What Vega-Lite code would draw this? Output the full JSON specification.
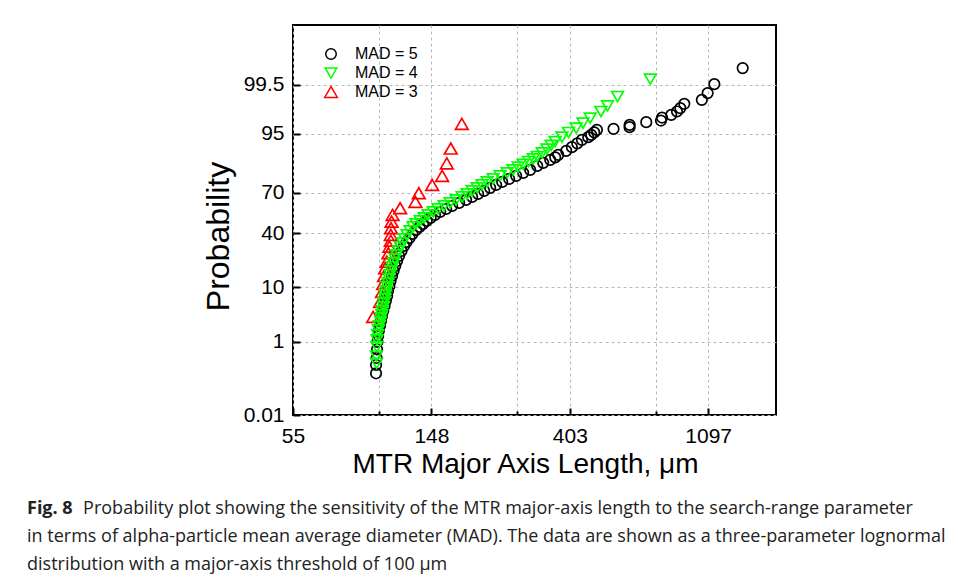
{
  "$schema": "https://vega.github.io/schema/vega-lite/v6.json",
  "width": 483,
  "height": 390,
  "autosize": {"type": "none"},
  "padding": {"left": 293, "top": 25, "right": 182, "bottom": 164},
  "background": "white",
  "config": {
    "view": {"stroke": "black", "strokeWidth": 2},
    "font": "Liberation Sans"
  },
  "title": {
    "text": "Fig. 8",
    "subtitle": [
      "\u200b\u00a0\u00a0\u00a0\u00a0\u00a0\u00a0\u00a0\u00a0\u00a0\u00a0\u00a0\u00a0Probability plot showing the sensitivity of the MTR major-axis length to the search-range parameter",
      "in terms of alpha-particle mean average diameter (MAD). The data are shown as a three-parameter lognormal",
      "distribution with a major-axis threshold of 100 μm"
    ],
    "orient": "bottom",
    "anchor": "start",
    "frame": "group",
    "dx": -266,
    "offset": 22,
    "font": "Open Sans",
    "fontSize": 18,
    "fontWeight": "bold",
    "color": "#222222",
    "subtitleFont": "Open Sans",
    "subtitleFontSize": 18,
    "subtitleColor": "#222222",
    "subtitleLineHeight": 28,
    "subtitlePadding": -18
  },
  "data": {
    "values": [
      {"series": "MAD = 5", "length": 99.5, "z": -2.924},
      {"series": "MAD = 5", "length": 99.5, "z": -2.765},
      {"series": "MAD = 5", "length": 99.9, "z": -2.632},
      {"series": "MAD = 5", "length": 100.2, "z": -2.466},
      {"series": "MAD = 5", "length": 100.5, "z": -2.326},
      {"series": "MAD = 5", "length": 101.0, "z": -2.212},
      {"series": "MAD = 5", "length": 101.5, "z": -2.116},
      {"series": "MAD = 5", "length": 102.3, "z": -2.021},
      {"series": "MAD = 5", "length": 103.1, "z": -1.926},
      {"series": "MAD = 5", "length": 103.9, "z": -1.830},
      {"series": "MAD = 5", "length": 104.8, "z": -1.735},
      {"series": "MAD = 5", "length": 105.8, "z": -1.639},
      {"series": "MAD = 5", "length": 106.8, "z": -1.544},
      {"series": "MAD = 5", "length": 107.8, "z": -1.448},
      {"series": "MAD = 5", "length": 108.5, "z": -1.353},
      {"series": "MAD = 5", "length": 109.6, "z": -1.258},
      {"series": "MAD = 5", "length": 110.5, "z": -1.162},
      {"series": "MAD = 5", "length": 111.7, "z": -1.067},
      {"series": "MAD = 5", "length": 112.9, "z": -0.971},
      {"series": "MAD = 5", "length": 114.3, "z": -0.876},
      {"series": "MAD = 5", "length": 115.8, "z": -0.780},
      {"series": "MAD = 5", "length": 117.5, "z": -0.685},
      {"series": "MAD = 5", "length": 119.6, "z": -0.590},
      {"series": "MAD = 5", "length": 121.8, "z": -0.494},
      {"series": "MAD = 5", "length": 124.1, "z": -0.418},
      {"series": "MAD = 5", "length": 126.8, "z": -0.342},
      {"series": "MAD = 5", "length": 129.5, "z": -0.265},
      {"series": "MAD = 5", "length": 132.9, "z": -0.189},
      {"series": "MAD = 5", "length": 136.3, "z": -0.132},
      {"series": "MAD = 5", "length": 139.8, "z": -0.074},
      {"series": "MAD = 5", "length": 143.4, "z": -0.017},
      {"series": "MAD = 5", "length": 147.6, "z": 0.040},
      {"series": "MAD = 5", "length": 152.4, "z": 0.097},
      {"series": "MAD = 5", "length": 158.1, "z": 0.155},
      {"series": "MAD = 5", "length": 165.1, "z": 0.212},
      {"series": "MAD = 5", "length": 172.4, "z": 0.269},
      {"series": "MAD = 5", "length": 181.3, "z": 0.326},
      {"series": "MAD = 5", "length": 190.7, "z": 0.384},
      {"series": "MAD = 5", "length": 199.2, "z": 0.441},
      {"series": "MAD = 5", "length": 208.0, "z": 0.498},
      {"series": "MAD = 5", "length": 217.3, "z": 0.555},
      {"series": "MAD = 5", "length": 226.9, "z": 0.613},
      {"series": "MAD = 5", "length": 236.9, "z": 0.670},
      {"series": "MAD = 5", "length": 247.5, "z": 0.727},
      {"series": "MAD = 5", "length": 260.3, "z": 0.784},
      {"series": "MAD = 5", "length": 273.8, "z": 0.842},
      {"series": "MAD = 5", "length": 288.1, "z": 0.899},
      {"series": "MAD = 5", "length": 303.0, "z": 0.956},
      {"series": "MAD = 5", "length": 318.8, "z": 1.032},
      {"series": "MAD = 5", "length": 332.9, "z": 1.090},
      {"series": "MAD = 5", "length": 350.2, "z": 1.147},
      {"series": "MAD = 5", "length": 363.1, "z": 1.195},
      {"series": "MAD = 5", "length": 371.0, "z": 1.242},
      {"series": "MAD = 5", "length": 393.1, "z": 1.319},
      {"series": "MAD = 5", "length": 409.6, "z": 1.389},
      {"series": "MAD = 5", "length": 425.7, "z": 1.462},
      {"series": "MAD = 5", "length": 440.4, "z": 1.529},
      {"series": "MAD = 5", "length": 460.9, "z": 1.580},
      {"series": "MAD = 5", "length": 471.0, "z": 1.624},
      {"series": "MAD = 5", "length": 481.3, "z": 1.672},
      {"series": "MAD = 5", "length": 490.9, "z": 1.719},
      {"series": "MAD = 5", "length": 553.4, "z": 1.739},
      {"series": "MAD = 5", "length": 621.3, "z": 1.771},
      {"series": "MAD = 5", "length": 621.8, "z": 1.815},
      {"series": "MAD = 5", "length": 701.0, "z": 1.866},
      {"series": "MAD = 5", "length": 779.7, "z": 1.897},
      {"series": "MAD = 5", "length": 785.5, "z": 1.954},
      {"series": "MAD = 5", "length": 839.8, "z": 2.006},
      {"series": "MAD = 5", "length": 875.4, "z": 2.069},
      {"series": "MAD = 5", "length": 896.6, "z": 2.134},
      {"series": "MAD = 5", "length": 922.8, "z": 2.216},
      {"series": "MAD = 5", "length": 1047.4, "z": 2.292},
      {"series": "MAD = 5", "length": 1092.3, "z": 2.420},
      {"series": "MAD = 5", "length": 1146.4, "z": 2.592},
      {"series": "MAD = 5", "length": 1407.0, "z": 2.897},
      {"series": "MAD = 3", "length": 97.4, "z": -1.849},
      {"series": "MAD = 3", "length": 102.4, "z": -1.563},
      {"series": "MAD = 3", "length": 103.9, "z": -1.372},
      {"series": "MAD = 3", "length": 104.7, "z": -1.219},
      {"series": "MAD = 3", "length": 105.4, "z": -1.067},
      {"series": "MAD = 3", "length": 106.2, "z": -0.920},
      {"series": "MAD = 3", "length": 107.5, "z": -0.794},
      {"series": "MAD = 3", "length": 108.8, "z": -0.634},
      {"series": "MAD = 3", "length": 109.6, "z": -0.508},
      {"series": "MAD = 3", "length": 110.7, "z": -0.393},
      {"series": "MAD = 3", "length": 110.7, "z": -0.284},
      {"series": "MAD = 3", "length": 110.9, "z": -0.156},
      {"series": "MAD = 3", "length": 111.3, "z": -0.031},
      {"series": "MAD = 3", "length": 112.1, "z": 0.097},
      {"series": "MAD = 3", "length": 118.4, "z": 0.225},
      {"series": "MAD = 3", "length": 132.2, "z": 0.345},
      {"series": "MAD = 3", "length": 135.5, "z": 0.511},
      {"series": "MAD = 3", "length": 149.2, "z": 0.670},
      {"series": "MAD = 3", "length": 160.4, "z": 0.842},
      {"series": "MAD = 3", "length": 165.9, "z": 1.080},
      {"series": "MAD = 3", "length": 170.7, "z": 1.363},
      {"series": "MAD = 3", "length": 184.9, "z": 1.834},
      {"series": "MAD = 4", "length": 99.9, "z": -2.733},
      {"series": "MAD = 4", "length": 99.7, "z": -2.594},
      {"series": "MAD = 4", "length": 100.0, "z": -2.416},
      {"series": "MAD = 4", "length": 100.2, "z": -2.288},
      {"series": "MAD = 4", "length": 100.6, "z": -2.193},
      {"series": "MAD = 4", "length": 101.2, "z": -2.097},
      {"series": "MAD = 4", "length": 101.9, "z": -2.021},
      {"series": "MAD = 4", "length": 102.8, "z": -1.939},
      {"series": "MAD = 4", "length": 103.1, "z": -1.868},
      {"series": "MAD = 4", "length": 103.7, "z": -1.811},
      {"series": "MAD = 4", "length": 104.2, "z": -1.735},
      {"series": "MAD = 4", "length": 104.9, "z": -1.658},
      {"series": "MAD = 4", "length": 105.4, "z": -1.582},
      {"series": "MAD = 4", "length": 106.2, "z": -1.506},
      {"series": "MAD = 4", "length": 106.6, "z": -1.429},
      {"series": "MAD = 4", "length": 107.2, "z": -1.353},
      {"series": "MAD = 4", "length": 107.8, "z": -1.277},
      {"series": "MAD = 4", "length": 108.5, "z": -1.200},
      {"series": "MAD = 4", "length": 109.3, "z": -1.124},
      {"series": "MAD = 4", "length": 110.1, "z": -1.048},
      {"series": "MAD = 4", "length": 110.9, "z": -0.971},
      {"series": "MAD = 4", "length": 111.9, "z": -0.895},
      {"series": "MAD = 4", "length": 112.9, "z": -0.819},
      {"series": "MAD = 4", "length": 114.2, "z": -0.742},
      {"series": "MAD = 4", "length": 115.4, "z": -0.666},
      {"series": "MAD = 4", "length": 117.1, "z": -0.590},
      {"series": "MAD = 4", "length": 118.8, "z": -0.513},
      {"series": "MAD = 4", "length": 120.5, "z": -0.437},
      {"series": "MAD = 4", "length": 122.3, "z": -0.361},
      {"series": "MAD = 4", "length": 124.5, "z": -0.284},
      {"series": "MAD = 4", "length": 127.2, "z": -0.208},
      {"series": "MAD = 4", "length": 130.0, "z": -0.132},
      {"series": "MAD = 4", "length": 132.9, "z": -0.074},
      {"series": "MAD = 4", "length": 136.8, "z": -0.017},
      {"series": "MAD = 4", "length": 140.8, "z": 0.040},
      {"series": "MAD = 4", "length": 144.9, "z": 0.097},
      {"series": "MAD = 4", "length": 150.3, "z": 0.155},
      {"series": "MAD = 4", "length": 155.8, "z": 0.212},
      {"series": "MAD = 4", "length": 162.7, "z": 0.269},
      {"series": "MAD = 4", "length": 169.9, "z": 0.326},
      {"series": "MAD = 4", "length": 177.4, "z": 0.384},
      {"series": "MAD = 4", "length": 185.3, "z": 0.441},
      {"series": "MAD = 4", "length": 192.2, "z": 0.498},
      {"series": "MAD = 4", "length": 199.2, "z": 0.555},
      {"series": "MAD = 4", "length": 206.6, "z": 0.613},
      {"series": "MAD = 4", "length": 214.1, "z": 0.670},
      {"series": "MAD = 4", "length": 222.1, "z": 0.727},
      {"series": "MAD = 4", "length": 231.9, "z": 0.784},
      {"series": "MAD = 4", "length": 243.9, "z": 0.842},
      {"series": "MAD = 4", "length": 256.6, "z": 0.899},
      {"series": "MAD = 4", "length": 268.0, "z": 0.956},
      {"series": "MAD = 4", "length": 277.8, "z": 1.008},
      {"series": "MAD = 4", "length": 288.1, "z": 1.061},
      {"series": "MAD = 4", "length": 299.3, "z": 1.115},
      {"series": "MAD = 4", "length": 309.7, "z": 1.166},
      {"series": "MAD = 4", "length": 318.8, "z": 1.210},
      {"series": "MAD = 4", "length": 330.5, "z": 1.281},
      {"series": "MAD = 4", "length": 341.9, "z": 1.351},
      {"series": "MAD = 4", "length": 352.7, "z": 1.424},
      {"series": "MAD = 4", "length": 363.1, "z": 1.496},
      {"series": "MAD = 4", "length": 381.1, "z": 1.580},
      {"series": "MAD = 4", "length": 399.7, "z": 1.668},
      {"series": "MAD = 4", "length": 422.6, "z": 1.752},
      {"series": "MAD = 4", "length": 443.6, "z": 1.847},
      {"series": "MAD = 4", "length": 467.6, "z": 1.943},
      {"series": "MAD = 4", "length": 505.2, "z": 2.069},
      {"series": "MAD = 4", "length": 529.9, "z": 2.177},
      {"series": "MAD = 4", "length": 569.7, "z": 2.355},
      {"series": "MAD = 4", "length": 721.7, "z": 2.687}
    ]
  },
  "mark": {"type": "point", "filled": false, "strokeWidth": 1.7, "opacity": 1},
  "encoding": {
    "x": {
      "field": "length",
      "type": "quantitative",
      "scale": {"type": "log", "base": 2.718281828459045, "domain": [54.598, 1790], "nice": false},
      "axis": {
        "values": [54.598, 101.49, 148.413, 275.89, 403.429, 749.94, 1096.633],
        "labelExpr": "abs(log(datum.value) - round(log(datum.value))) > 0.1 ? '' : format(datum.value, '.0f')",
        "title": "MTR Major Axis Length, μm",
        "titleFont": "Liberation Sans",
        "titleFontSize": 28,
        "titleFontWeight": "normal",
        "titleColor": "black",
        "titleX": 232,
        "titlePadding": 1,
        "labelFont": "Liberation Sans",
        "labelFontSize": 21,
        "labelColor": "black",
        "labelFlush": false,
        "labelOverlap": false,
        "labelPadding": 17,
        "tickSize": {"condition": {"test": "abs(log(datum.value) - round(log(datum.value))) > 0.1", "value": -4}, "value": -7},
        "tickColor": "black",
        "tickWidth": 2,
        "grid": true,
        "gridColor": "#b8b8b8",
        "gridDash": [3, 3],
        "gridWidth": 1,
        "domain": false
      }
    },
    "y": {
      "field": "z",
      "type": "quantitative",
      "scale": {"domain": [-3.719, 3.719], "nice": false, "zero": false},
      "axis": {
        "values": [-3.719, -2.3263, -1.2816, -0.2533, 0.5244, 1.6449, 2.5758],
        "labelExpr": "datum.value < -3 ? '0.01' : datum.value < -2 ? '1' : datum.value < -1 ? '10' : datum.value < 0 ? '40' : datum.value < 1 ? '70' : datum.value < 2 ? '95' : '99.5'",
        "title": "Probability",
        "titleFont": "Liberation Sans",
        "titleFontSize": 32,
        "titleFontWeight": "normal",
        "titleColor": "black",
        "titleY": 211,
        "titlePadding": 8,
        "labelFont": "Liberation Sans",
        "labelFontSize": 21,
        "labelColor": "black",
        "labelOverlap": false,
        "labelPadding": 16,
        "tickSize": -7,
        "tickColor": "black",
        "tickWidth": 2,
        "grid": true,
        "gridColor": "#b8b8b8",
        "gridDash": [3, 3],
        "gridWidth": 1,
        "domain": false
      }
    },
    "color": {
      "field": "series",
      "type": "nominal",
      "scale": {"domain": ["MAD = 5", "MAD = 4", "MAD = 3"], "range": ["#000000", "#00ff00", "#ff0000"]},
      "legend": {
        "title": null,
        "orient": "none",
        "legendX": 30,
        "legendY": 21,
        "labelFont": "Liberation Sans",
        "labelFontSize": 16,
        "labelColor": "black",
        "labelOffset": 16,
        "rowPadding": 1,
        "symbolStrokeWidth": 1.5
      }
    },
    "shape": {
      "field": "series",
      "type": "nominal",
      "scale": {"domain": ["MAD = 5", "MAD = 4", "MAD = 3"], "range": ["circle", "triangle-down", "triangle-up"]}
    },
    "size": {
      "field": "series",
      "type": "nominal",
      "scale": {"domain": ["MAD = 5", "MAD = 4", "MAD = 3"], "range": [110, 160, 160]}
    }
  }
}
